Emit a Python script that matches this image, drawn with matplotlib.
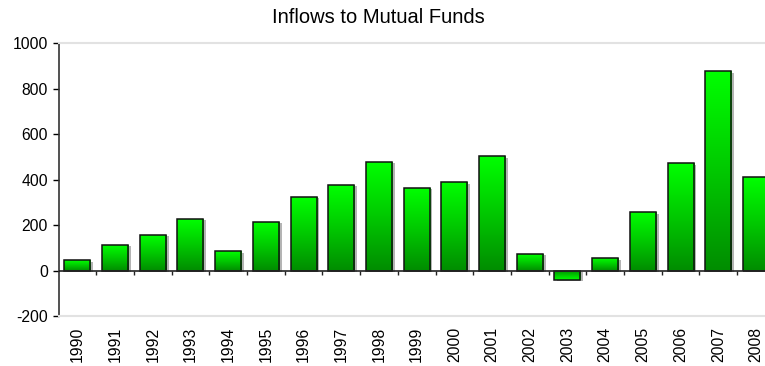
import numpy as np
import matplotlib.pyplot as plt
import matplotlib.patheffects as pe
from matplotlib.colors import LinearSegmentedColormap

plt.rcParams['font.family'] = ['Liberation Sans', 'DejaVu Sans']
plt.rcParams['axes.unicode_minus'] = False

years = ['1990', '1991', '1992', '1993', '1994', '1995', '1996', '1997', '1998', '1999',
         '2000', '2001', '2002', '2003', '2004', '2005', '2006', '2007', '2008']
inflows = [45, 113, 157, 227, 84, 215, 324, 377, 478, 364,
           389, 503, 73, -41, 54, 257, 472, 877, 411]

fig = plt.figure(figsize=(7.65, 3.66), dpi=100)
ax = fig.add_axes([0.0765, 0.1366, 0.9235, 0.7451])

x = np.arange(len(years))
width = 0.69

# soft grey drop shadow behind each bar
ax.bar(x, inflows, width, color='none', linewidth=0, zorder=1,
       path_effects=[pe.SimplePatchShadow(offset=(2, -1), shadow_rgbFace='#b4b4b4', alpha=1.0)])

bars = ax.bar(x, inflows, width, color='none', edgecolor='#111111', linewidth=1.1, zorder=3)

# vertical green gradient inside every bar: dark at zero, bright at the far end
cmap = LinearSegmentedColormap.from_list('grn', ['#008c00', '#00c800', '#00ff00'])
grad = np.linspace(0, 1, 256).reshape(-1, 1)
for b, v in zip(bars, inflows):
    x0 = b.get_x()
    x1 = x0 + b.get_width()
    img = grad if v >= 0 else grad[::-1]
    im = ax.imshow(img, cmap=cmap, aspect='auto', origin='lower',
                   extent=(x0, x1, min(0, v), max(0, v)), zorder=2)
    im.set_clip_path(b)

ax.set_xlim(-0.5, 18.24)
ax.set_ylim(-200, 1000)
ax.set_yticks(np.arange(-200, 1001, 200))
ax.tick_params(axis='y', direction='out', length=4, width=1, labelsize=11.3, colors='black', pad=3.5)

ax.set_xticks(x)
ax.set_xticklabels(years, rotation=90, fontsize=11.3)
ax.tick_params(axis='x', length=0, pad=8)

# zero line with category boundary ticks hanging below it
ax.axhline(0, color='#222222', linewidth=1.2, zorder=4)
bounds = np.arange(len(years) + 1) - 0.5
ax.vlines(bounds[1:], -18, 0, color='#222222', linewidth=1.0, zorder=4)

for side in ['top', 'bottom']:
    ax.spines[side].set_color('#e2e2e2')
    ax.spines[side].set_linewidth(1.5)
ax.spines['right'].set_visible(False)
ax.spines['left'].set_color('#333333')
ax.spines['left'].set_linewidth(1.2)

fig.text(0.495, 0.953, 'Inflows to Mutual Funds', ha='center', va='center', fontsize=14.5)

fig.savefig('out.png', dpi=100)
